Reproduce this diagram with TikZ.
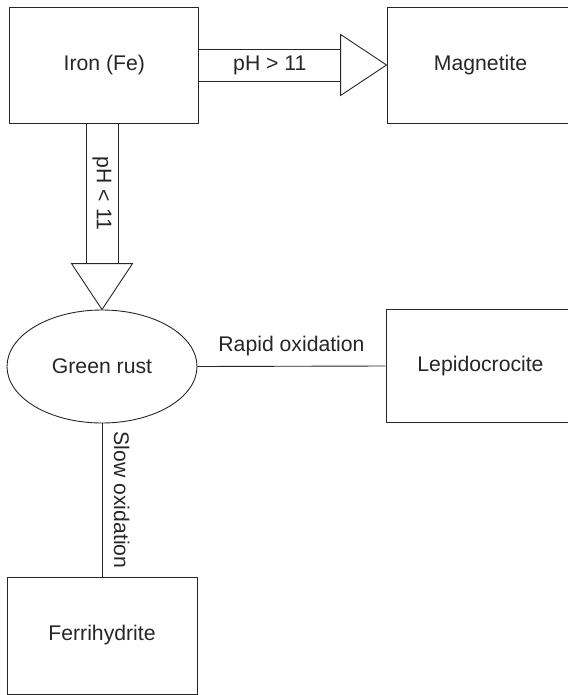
\documentclass[tikz,border=0pt]{standalone}
\usepackage{fontspec}
\setmainfont{Liberation Sans}
\usetikzlibrary{calc,shapes.geometric}
\definecolor{ink}{HTML}{262626}
\begin{document}
\begin{tikzpicture}[x=1pt,y=-1pt,
  every node/.style={text=ink, font=\fontsize{21.2}{25}\selectfont},
  box/.style={draw=ink, line width=0.9pt, rectangle, inner sep=0pt, minimum width=189pt, minimum height=116pt},
  oval/.style={draw=ink, line width=0.9pt, ellipse, inner sep=0pt, minimum width=190pt, minimum height=113pt},
  conn/.style={draw=ink, line width=0.9pt, line join=miter},
  lbl/.style={inner sep=0pt}]
\useasboundingbox (0,0) rectangle (567,695);

\node[box] (iron) at (104.25,65) {Iron (Fe)};
\node[box, minimum width=187pt] (magnetite) at (480.5,65) {Magnetite};
\node[oval] (green) at (102,366.5) {Green rust};
\node[box, minimum height=113.5pt, minimum width=189pt] (lepido) at (480.5,366) {Lepidocrocite};
\node[box, minimum width=190pt, minimum height=117pt] (ferri) at (102,635.5) {Ferrihydrite};

% horizontal fat arrow Iron -> Magnetite
\coordinate (hb) at ($(magnetite.west)+(-46,0)$);
\path (hb) ++(0,-16) coordinate (ht) ++(0,32) coordinate (hl);
\draw[conn] (ht) -- (ht -| iron.east);
\draw[conn] (hl) -- (hl -| iron.east);
\draw[conn] ($(hb)+(0,-30.5)$) -- (magnetite.west) -- ($(hb)+(0,30.5)$) -- cycle;
\node[lbl] (lgt) at ($(hb -| iron.east)!0.5!(hb)$) {pH > 11};

% vertical fat arrow Iron -> Green rust
\coordinate (vb) at ($(green.north)+(0,-46)$);
\path (vb) ++(-16,0) coordinate (vl) ++(32,0) coordinate (vr);
\draw[conn] (vl) -- (vl |- iron.south);
\draw[conn] (vr) -- (vr |- iron.south);
\draw[conn] ($(vb)+(-30.5,0)$) -- (green.north) -- ($(vb)+(30.5,0)$) -- cycle;
\node[lbl, rotate=-90] (llt) at ($(vb |- iron.south)!0.5!(vb)$) {pH < 11};

% rapid oxidation
\draw[conn] (green.east) -- coordinate (rm) (lepido.west);
\node[lbl, anchor=base] (lrap) at ($(rm)+(0,-15)$) {Rapid oxidation};

% slow oxidation
\draw[conn] (green.south) -- coordinate (sm) (green.south |- ferri.north);
\node[lbl, anchor=base, rotate=-90] (lslow) at ($(sm)+(12,0)$) {Slow oxidation};
\end{tikzpicture}
\end{document}
